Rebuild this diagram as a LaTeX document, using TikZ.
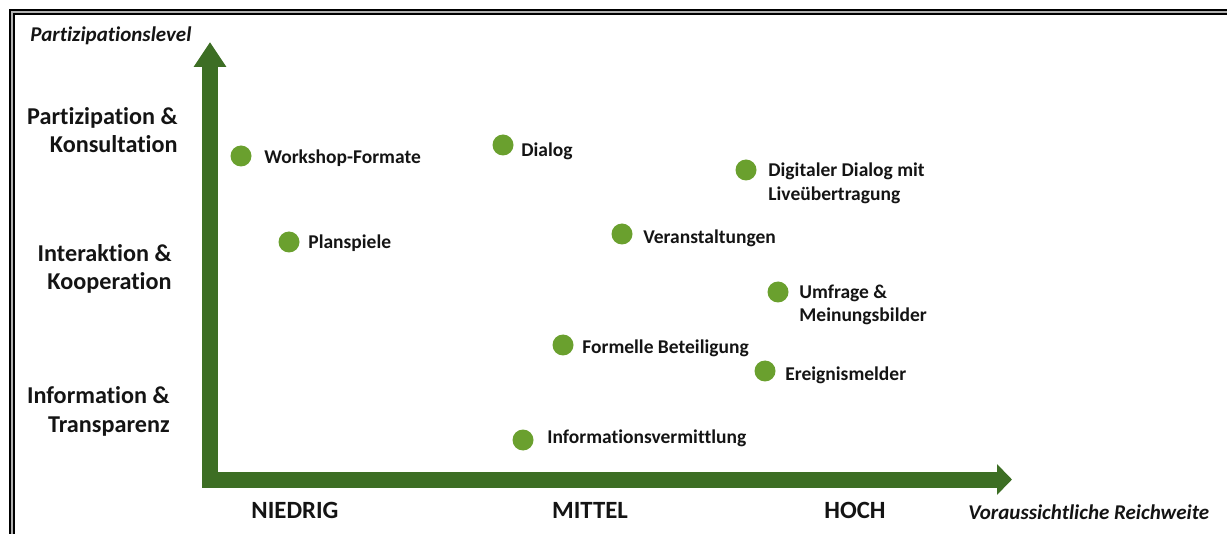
\documentclass[tikz,border=0pt]{standalone}
\usepackage{fontspec}
\setmainfont{Carlito}[Ligatures=NoCommon]
\usetikzlibrary{arrows.meta}
\definecolor{axisgreen}{RGB}{61,110,36}
\definecolor{dotgreen}{RGB}{106,160,46}
\definecolor{txt}{RGB}{20,20,20}
\begin{document}
\begin{tikzpicture}[x=0.5pt,y=-0.5pt,
  dot/.style={circle,fill=dotgreen,inner sep=0pt,minimum size=10.5pt},
  lbl/.style={font=\bfseries\fontsize{9.75}{12}\selectfont,text=txt,inner sep=0pt,anchor=base west,align=left},
  level/.style={font=\bfseries\fontsize{12.1}{14.3}\selectfont,text=txt,inner sep=0pt,anchor=base east,align=right},
  tick/.style={font=\bfseries\fontsize{12.4}{14}\selectfont,text=txt,inner sep=0pt,anchor=base},
  axtitle/.style={font=\bfseries\itshape\fontsize{10.5}{12}\selectfont,text=txt,inner sep=0pt,anchor=base west},
  axis/.style={draw=axisgreen,line width=8pt,line join=miter}
]
\useasboundingbox (0,0) rectangle (1227,534);
\begin{scope}
\clip (0,0) rectangle (1227,534);
\draw[line width=3pt,black] (12,12) rectangle (1300,600);
\draw[line width=0.6pt,gray!60] (12,12) rectangle (1300,600);
\end{scope}

% axes
\coordinate (O) at (210,479.5);
\coordinate (Y) at (210,42);
\coordinate (X) at (1012,479.5);
\draw[axis,-{Triangle[length=12.5pt,width=15.5pt,fill=axisgreen]}] (O) -- (Y);
\draw[axis,-{Triangle[length=7.5pt,width=15pt,fill=axisgreen]}] ([xshift=-4pt]O) -- (X);

% axis titles
\node[axtitle] (ytitle) at (30,42) {Partizipationslevel};
\node[axtitle] (xtitle) at (968,519) {Voraussichtliche Reichweite};

% levels (base = baseline of last line)
\node[level] (l1) at (178,153) {Partizipation \&\\Konsultation};
\node[level] (l2) at (172,290) {Interaktion \&\\Kooperation};
\node[level] (l3) at (170,432) {Information \&\\Transparenz};

% ticks
\node[tick] (t1) at (295,518) {NIEDRIG};
\node[tick] (t2) at (590,518) {MITTEL};
\node[tick] (t3) at (855,518) {HOCH};

% points
\node[dot] (d1) at (241,156) {};
\node[lbl] (p1) at (264,164) {Workshop-Formate};
\node[dot] (d2) at (503,145) {};
\node[lbl] (p2) at (521,157) {Dialog};
\node[dot] (d3) at (746,170) {};
\node[lbl] (p3) at (768,201) {Digitaler Dialog mit\\Liveübertragung};
\node[dot] (d4) at (289,242) {};
\node[lbl] (p4) at (308,249) {Planspiele};
\node[dot] (d5) at (622,234) {};
\node[lbl] (p5) at (643,244) {Veranstaltungen};
\node[dot] (d6) at (778,292) {};
\node[lbl] (p6) at (799,322) {Umfrage \&\\Meinungsbilder};
\node[dot] (d7) at (563,345) {};
\node[lbl] (p7) at (582,354) {Formelle Beteiligung};
\node[dot] (d8) at (765,371) {};
\node[lbl] (p8) at (785,380) {Ereignismelder};
\node[dot] (d9) at (523,440) {};
\node[lbl] (p9) at (547,444) {Informationsvermittlung};
\end{tikzpicture}
\end{document}
